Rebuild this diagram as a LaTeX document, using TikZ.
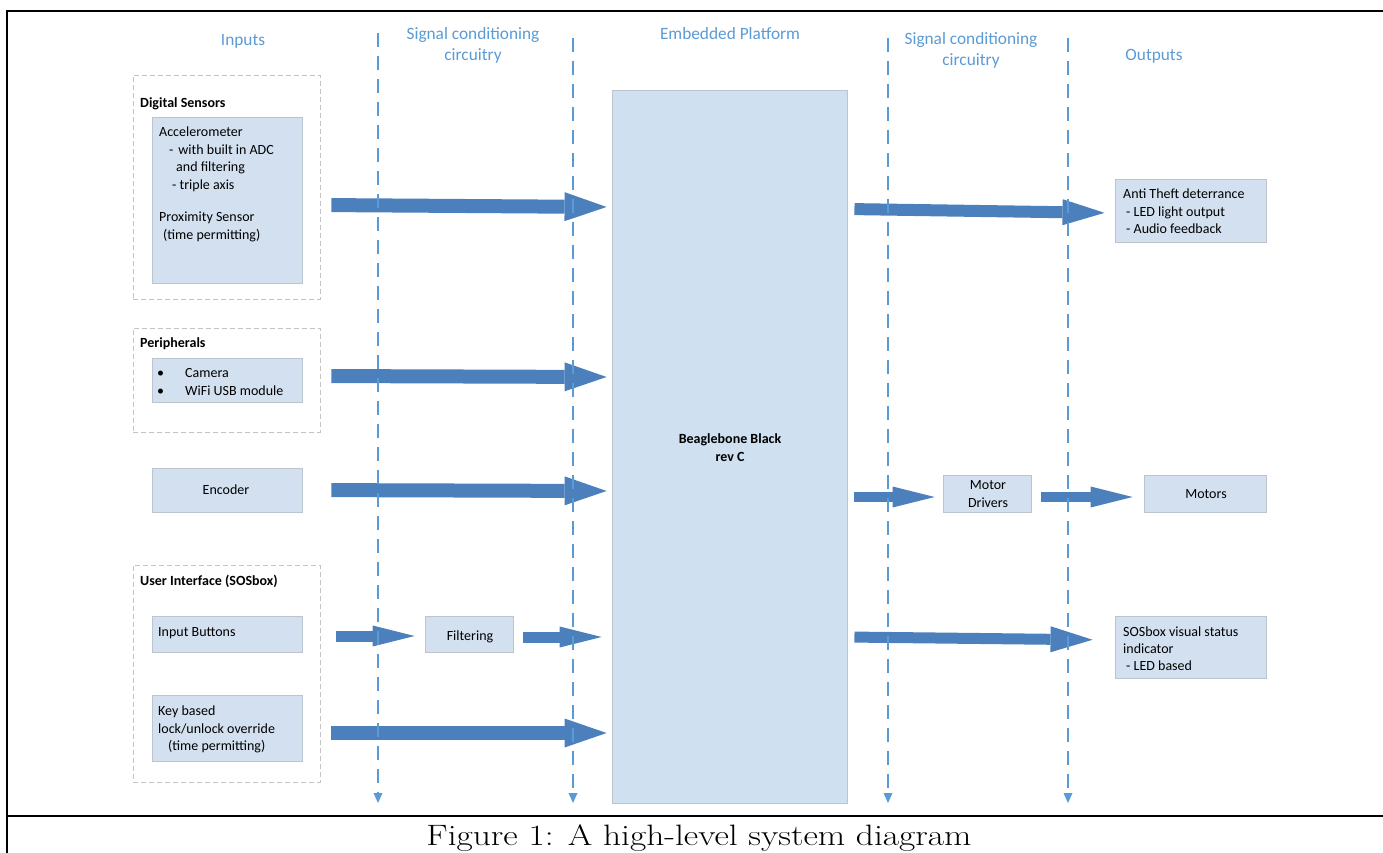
\documentclass[tikz,border=0pt]{standalone}
\usepackage{fontspec}
\usepackage{graphicx}
\newfontfamily\calfont{Carlito}
\usetikzlibrary{arrows.meta,fit}
\definecolor{hdrblue}{RGB}{91,155,213}
\definecolor{boxfill}{RGB}{210,224,240}
\definecolor{platfill}{RGB}{207,224,240}
\definecolor{boxedge}{RGB}{188,196,206}
\definecolor{grpedge}{RGB}{196,196,196}
\definecolor{arrblue}{RGB}{76,128,188}
\tikzset{
  box/.style={rectangle, draw=boxedge, fill=boxfill, line width=0.9pt, inner sep=0pt},
  platbox/.style={rectangle, draw=boxedge, fill=platfill, line width=0.9pt, inner sep=0pt},
  grp/.style={rectangle, draw=grpedge, dash pattern=on 5pt off 3pt, line width=0.9pt, inner sep=0pt},
  txt/.style={font=\calfont\fontsize{14}{17.5}\selectfont, inner sep=0pt, anchor=base west},
  ctxt/.style={font=\calfont\fontsize{14}{17.5}\selectfont, inner sep=0pt, anchor=base},
  btxt/.style={font=\calfont\bfseries\fontsize{14}{17.5}\selectfont, inner sep=0pt, anchor=base west},
  cbtxt/.style={font=\calfont\bfseries\fontsize{14}{17.5}\selectfont, inner sep=0pt, anchor=base},
  hdr/.style={font=\calfont\fontsize{17.3}{21}\selectfont, text=hdrblue, inner sep=0pt, anchor=base},
  bigarrow/.style={draw=arrblue, line width=14pt, -{Triangle[length=42pt,width=29pt,line width=0pt]}},
  midarrow/.style={draw=arrblue, line width=12pt, -{Triangle[length=42pt,width=26pt,line width=0pt]}},
  smallarrow/.style={draw=arrblue, line width=11pt, -{Triangle[length=42pt,width=21pt,line width=0pt]}},
  guide/.style={draw=hdrblue, line width=1.2pt, dash pattern=on 14pt off 9pt, -{Triangle[length=10pt,width=9pt,line width=0pt]}},
  frame/.style={draw=black, line width=2.4pt}
}
\begin{document}
\begin{tikzpicture}[x=1pt,y=-1pt]
\useasboundingbox (0,0) rectangle (1383,852);
\fill[white] (0,0) rectangle (1383,852);
% frame
\draw[frame] (7,860) -- (7,11) -- (1395,11);
\draw[frame] (7,816) -- (1395,816);

% headers
\node[hdr] (h1) at (243,45) {Inputs};
\node[hdr] (h2a) at (473,39) {Signal conditioning};
\node[hdr] (h2b) at (473,60) {circuitry};
\node[hdr] (h3) at (730,39) {Embedded Platform};
\node[hdr] (h4a) at (971,44) {Signal conditioning};
\node[hdr] (h4b) at (971,65) {circuitry};
\node[hdr] (h5) at (1154,60) {Outputs};

% groups
\node[grp, fit={(133,75) (320,299)}] (dsgrp) {};
\node[grp, fit={(133,328) (320,432)}] (pgrp) {};
\node[grp, fit={(133,565) (320,782)}] (uigrp) {};

% boxes
\node[box, fit={(152,117) (302,283)}] (acc) {};
\node[box, fit={(152,358) (302,402)}] (per) {};
\node[box, fit={(152,468) (302,512)}] (enc) {};
\node[box, fit={(152,616) (302,652)}] (ib) {};
\node[box, fit={(152,695) (302,761)}] (key) {};
\node[box, fit={(425,616) (513,652)}] (filt) {};
\node[platbox, fit={(612,90) (847,803)}] (plat) {};
\node[box, fit={(1115,179) (1266,242)}] (anti) {};
\node[box, fit={(943,475) (1031,512)}] (md) {};
\node[box, fit={(1144,475) (1266,512)}] (mot) {};
\node[box, fit={(1115,616) (1266,678)}] (sos) {};

% group titles
\node[btxt] (dst) at (140,107) {Digital Sensors};
\node[btxt] (pt) at (140,347) {Peripherals};
\node[btxt] (uit) at (140,585) {User Interface (SOSbox)};

% accelerometer text
\node[txt] (a1) at (159,136) {Accelerometer};
\node[txt] (a2) at (169,154) {-\hspace{5pt}with built in ADC};
\node[txt] (a3) at (176,171) {and filtering};
\node[txt] (a4) at (172,189) {- triple axis};
\node[txt] (a5) at (159,221) {Proximity Sensor};
\node[txt] (a6) at (163,239) {(time permitting)};

% peripherals text
\node[txt] (b1) at (157,377) {\textbullet};
\node[txt] (b2) at (185,377) {Camera};
\node[txt] (b3) at (157,395) {\textbullet};
\node[txt] (b4) at (185,395) {WiFi USB module};

\node[ctxt] (enct) at (226,494) {Encoder};
\node[txt] (ibt) at (158,636) {Input Buttons};
\node[ctxt] (filtt) at (470,640) {Filtering};
\node[txt] (k1) at (158,715) {Key based};
\node[txt] (k2) at (158,733) {lock/unlock override};
\node[txt] (k3) at (168,750) {(time permitting)};

\node[cbtxt] (bb1) at (730,443) {Beaglebone Black};
\node[cbtxt] (bb2) at (730,461) {rev C};

\node[txt] (o1) at (1123,198) {Anti Theft deterrance};
\node[txt] (o2) at (1126,216) {- LED light output};
\node[txt] (o3) at (1126,233) {- Audio feedback};
\node[ctxt] (md1) at (988,489) {Motor};
\node[ctxt] (md2) at (988,507) {Drivers};
\node[ctxt] (mott) at (1206,498) {Motors};
\node[txt] (s1) at (1123,636) {SOSbox visual status};
\node[txt] (s2) at (1123,653) {indicator};
\node[txt] (s3) at (1126,670) {- LED based};

% block arrows
\draw[bigarrow, shorten <=11pt, shorten >=5pt] (dsgrp.east |- 0,205) -- (plat.west |- 0,207);
\draw[bigarrow, shorten <=11pt, shorten >=5pt] (pgrp.east |- 0,376) -- (plat.west |- 0,377);
\draw[bigarrow, shorten <=29pt, shorten >=5pt] (enc.east |- 0,490) -- (plat.west |- 0,491);
\draw[smallarrow, shorten <=34pt, shorten >=10pt] (ib.east |- 0,636) -- (filt.west |- 0,636);
\draw[smallarrow, shorten <=10pt, shorten >=10pt] (filt.east |- 0,637) -- (plat.west |- 0,637);
\draw[bigarrow, shorten <=11pt, shorten >=5pt] (uigrp.east |- 0,733) -- (plat.west |- 0,733);
\draw[midarrow, shorten <=7pt, shorten >=10pt] (plat.east |- 0,209) -- (anti.west |- 0,213);
\draw[smallarrow, line width=10.5pt, shorten <=7pt, shorten >=8pt] (plat.east |- 0,497) -- (md.west |- 0,497);
\draw[smallarrow, line width=10.5pt, shorten <=10pt, shorten >=11pt] (md.east |- 0,497) -- (mot.west |- 0,497);
\draw[midarrow, line width=11pt, shorten <=7pt, shorten >=22pt] (plat.east |- 0,637) -- (sos.west |- 0,640);

% guides
\coordinate (g1t) at (378,33);  \coordinate (g1b) at (378,803);
\coordinate (g2t) at (573,38);  \coordinate (g2b) at (573,803);
\coordinate (g3t) at (888,38);  \coordinate (g3b) at (888,803);
\coordinate (g4t) at (1068,38); \coordinate (g4b) at (1068,803);
\draw[guide] (g1t) -- (g1b);
\draw[guide] (g2t) -- (g2b);
\draw[guide] (g3t) -- (g3b);
\draw[guide] (g4t) -- (g4b);

% caption
\node[inner sep=0pt, anchor=base, font=\fontsize{29.5}{34}\selectfont] (cap) at (699,845) {\scalebox{1.2}[1]{Figure 1: A high-level system diagram}};
\end{tikzpicture}
\end{document}
